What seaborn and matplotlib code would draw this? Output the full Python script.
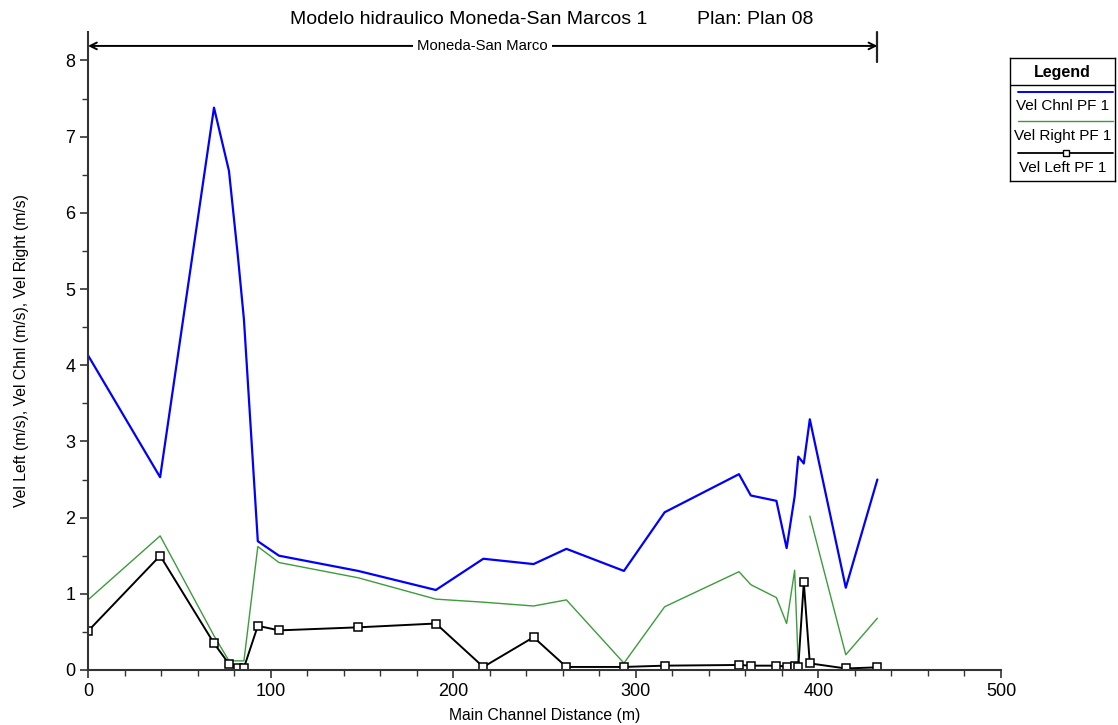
import numpy as np
import pandas as pd
import matplotlib
matplotlib.use("Agg")
import matplotlib.pyplot as plt
from matplotlib.ticker import MultipleLocator
import seaborn as sns

# River stations (main channel distance, m) and velocities (m/s) for profile PF 1
distance = [0, 39.5, 69, 77.2, 82, 85.4, 93, 104.6, 148, 190.5, 216.5, 244, 262,
            293.5, 315.8, 356.5, 363, 377, 382.6, 387, 389, 392, 395.3, 415, 432.3]
vel_chnl = [4.13, 2.53, 7.38, 6.55, 5.45, 4.60, 1.69, 1.50, 1.30, 1.05, 1.46, 1.39, 1.59,
            1.30, 2.07, 2.57, 2.29, 2.22, 1.60, 2.28, 2.80, 2.71, 3.29, 1.08, 2.50]
vel_right = [0.92, 1.76, 0.45, 0.12, 0.12, 0.12, 1.62, 1.41, 1.21, 0.93, 0.89, 0.84, 0.92,
             0.09, 0.83, 1.29, 1.12, 0.95, 0.61, 1.31, 0.04, np.nan, 2.02, 0.20, 0.68]
vel_left = [0.51, 1.50, 0.35, 0.08, 0.03, 0.03, 0.58, 0.52, 0.56, 0.61, 0.04, 0.43, 0.04,
            0.04, 0.057, 0.066, 0.057, 0.057, 0.045, 0.057, 0.045, 1.15, 0.087, 0.02, 0.035]

reach_name = "Moneda-San Marco"
title_left = "Modelo hidraulico Moneda-San Marcos 1"
title_right = "Plan: Plan 08"
series_labels = ["Vel Chnl PF 1", "Vel Right PF 1", "Vel Left PF 1"]

sns.set_theme(style="white")
plt.rcParams["font.family"] = ["Liberation Sans", "DejaVu Sans"]
plt.rcParams["text.color"] = "black"
plt.rcParams["axes.labelcolor"] = "black"
plt.rcParams["xtick.labelcolor"] = "black"
plt.rcParams["ytick.labelcolor"] = "black"

fig = plt.figure(figsize=(11.18, 7.25), dpi=100)
ax = fig.add_axes([88 / 1118, 1 - 670 / 725, 913 / 1118, (670 - 32) / 725])

df = pd.DataFrame({"dist": distance, "chnl": vel_chnl,
                   "right": vel_right, "left": vel_left})
# break the right-overbank line where there is no flow value
df["part"] = df["right"].isna().cumsum()

sns.lineplot(data=df, x="dist", y="chnl", ax=ax, color="#0000ff", lw=1.6,
             estimator=None, sort=False)
sns.lineplot(data=df.dropna(subset=["right"]), x="dist", y="right", units="part",
             ax=ax, color="#3c9c3c", lw=1.0, estimator=None, sort=False)
sns.lineplot(data=df, x="dist", y="left", ax=ax, color="black", lw=1.4,
             marker="s", markersize=6, markerfacecolor="white",
             markeredgecolor="black", markeredgewidth=1.1,
             estimator=None, sort=False)

ymax = (670 - 32) / 76.2
ax.set_xlim(0, 500)
ax.set_ylim(0, ymax)
ax.xaxis.set_major_locator(MultipleLocator(100))
ax.xaxis.set_minor_locator(MultipleLocator(20))
ax.yaxis.set_major_locator(MultipleLocator(1))
ax.yaxis.set_minor_locator(MultipleLocator(0.5))

for side in ("top", "right"):
    ax.spines[side].set_visible(False)
for side in ("left", "bottom"):
    ax.spines[side].set_color("#333333")
    ax.spines[side].set_linewidth(1.5)
ax.tick_params(axis="both", which="major", direction="out", length=6, width=1.2,
               color="#333333", labelcolor="black", labelsize=13, pad=3,
               bottom=True, left=True)
ax.tick_params(axis="both", which="minor", direction="out", length=4, width=1.0,
               color="#333333", bottom=True, left=True)

ax.set_xlabel("Main Channel Distance (m)", fontsize=11.3, labelpad=6)
ax.set_ylabel("Vel Left (m/s), Vel Chnl (m/s), Vel Right (m/s)", fontsize=11.3,
              labelpad=26)

# reach extent arrow with name
reach_end = distance[-1]
y_arrow = 8.19
ax.annotate("", xy=(0, y_arrow), xytext=(reach_end, y_arrow),
            arrowprops=dict(arrowstyle="<->", lw=1.4, color="black",
                            shrinkA=0, shrinkB=0, mutation_scale=12),
            annotation_clip=False)
ax.plot([reach_end, reach_end], [7.98, ymax], color="#222222", lw=1.6,
        clip_on=False)
ax.text(reach_end / 2, y_arrow, reach_name, ha="center", va="center", fontsize=10.7,
        bbox=dict(facecolor="white", edgecolor="none", pad=3))

fig.text(290 / 1118, 1 - 20 / 725, title_left, ha="left", va="center", fontsize=14)
fig.text(697 / 1118, 1 - 20 / 725, title_right, ha="left", va="center", fontsize=14)

# legend panel
lax = fig.add_axes([1010 / 1118, 1 - 181 / 725, 105 / 1118, 123 / 725])
lax.set_xlim(0, 105)
lax.set_ylim(181, 58)
lax.set_xticks([])
lax.set_yticks([])
for s in lax.spines.values():
    s.set_color("black")
    s.set_linewidth(1.0)
lax.text(52.5, 72, "Legend", ha="center", va="center", fontsize=11.5,
         fontweight="bold")
lax.plot([0, 105], [85, 85], color="black", lw=1.0)
lax.plot([8, 103], [92, 92], color="#0000ff", lw=1.4)
lax.text(52.5, 106, series_labels[0], ha="center", va="center", fontsize=11)
lax.plot([8, 103], [121, 121], color="#3c9c3c", lw=1.0)
lax.text(52.5, 136, series_labels[1], ha="center", va="center", fontsize=11)
lax.plot([8, 103], [153, 153], color="black", lw=1.3)
lax.plot([56], [153], marker="s", markersize=5, markerfacecolor="white",
         markeredgecolor="black", markeredgewidth=1.0)
lax.text(52.5, 168, series_labels[2], ha="center", va="center", fontsize=11)

fig.savefig("out.png", dpi=100, facecolor="white")
